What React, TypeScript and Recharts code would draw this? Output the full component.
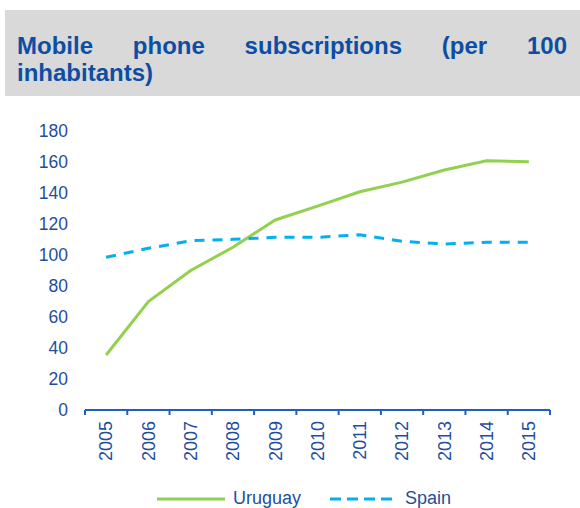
import React from 'react';
import { LineChart, Line, XAxis, YAxis, Legend } from 'recharts';

const years = ['2005', '2006', '2007', '2008', '2009', '2010', '2011', '2012', '2013', '2014', '2015'];
const uruguay = [35.5, 70, 90, 105, 122.6, 131.5, 140.8, 147, 154.8, 160.8, 160.2];
const spain = [98.5, 104.3, 109.2, 110.1, 111.4, 111.4, 113.1, 108.8, 107.1, 108.2, 108.2];
const yTicks = [0, 20, 40, 60, 80, 100, 120, 140, 160, 180];

const TEXT_BLUE = '#1f4e9e';
const AXIS_BLUE = '#1f5fbf';
const GREEN = '#92d050';
const CYAN = '#00b0f0';
const FONT = '"Liberation Sans", Arial, sans-serif';

const PLOT_LEFT = 85;
const PLOT_RIGHT = 550;
const HALF_BAND = (PLOT_RIGHT - PLOT_LEFT) / years.length / 2;

const data = years.map((year, i) => ({ year, Uruguay: uruguay[i], Spain: spain[i] }));

// rotated year labels + tick marks at the band edges
const YearTick = (props: any) => {
  const { x, y, payload, index } = props;
  const axisY = y - 8;
  return (
    <g>
      <line x1={x - HALF_BAND} x2={x - HALF_BAND} y1={axisY} y2={axisY + 5} stroke={AXIS_BLUE} strokeWidth={2} />
      {index === years.length - 1 && (
        <line x1={x + HALF_BAND} x2={x + HALF_BAND} y1={axisY} y2={axisY + 5} stroke={AXIS_BLUE} strokeWidth={2} />
      )}
      <text
        x={x}
        y={axisY + 11}
        transform={`rotate(-90 ${x} ${axisY + 11})`}
        textAnchor="end"
        dy="0.35em"
        fill={TEXT_BLUE}
        fontSize={18}
        fontFamily={FONT}
      >
        {payload.value}
      </text>
    </g>
  );
};

const LegendContent = () => (
  <div
    style={{
      height: 28,
      boxSizing: 'border-box',
      paddingTop: 9,
      paddingLeft: 157,
      display: 'flex',
      alignItems: 'center',
      fontFamily: FONT,
      fontSize: 18,
      color: TEXT_BLUE,
    }}
  >
    <svg width={68} height={4} style={{ marginRight: 8 }}>
      <line x1={0} x2={68} y1={2} y2={2} stroke={GREEN} strokeWidth={3} />
    </svg>
    <span style={{ marginRight: 29 }}>Uruguay</span>
    <svg width={62} height={4} style={{ marginRight: 13 }}>
      <line x1={0} x2={62} y1={2} y2={2} stroke={CYAN} strokeWidth={3} strokeDasharray="11 6" />
    </svg>
    <span>Spain</span>
  </div>
);

const App = () => {
  return (
    <div style={{ position: 'absolute', left: 0, top: 0, width: 580, height: 508, background: '#fff', overflow: 'hidden' }}>
      <LineChart
        width={580}
        height={508}
        data={data}
        margin={{ top: 131, right: 30, bottom: 0, left: 0 }}
      >
        <XAxis
          dataKey="year"
          height={70}
          interval={0}
          padding={{ left: HALF_BAND, right: HALF_BAND }}
          axisLine={{ stroke: AXIS_BLUE, strokeWidth: 2 }}
          tickLine={false}
          tick={<YearTick />}
        />
        <YAxis
          width={85}
          domain={[0, 180]}
          ticks={yTicks}
          axisLine={false}
          tickLine={false}
          tickSize={6}
          tickMargin={11}
          tick={{ fill: TEXT_BLUE, fontSize: 17.5, fontFamily: FONT }}
        />
        <Legend verticalAlign="bottom" content={<LegendContent />} />
        <Line
          dataKey="Uruguay"
          stroke={GREEN}
          strokeWidth={3}
          dot={false}
          isAnimationActive={false}
        />
        <Line
          dataKey="Spain"
          stroke={CYAN}
          strokeWidth={3}
          strokeDasharray="10 8"
          dot={false}
          isAnimationActive={false}
        />
      </LineChart>
      <div
        style={{
          position: 'absolute',
          left: 5,
          top: 10,
          width: 563,
          height: 86,
          paddingLeft: 12,
          background: '#d9d9d9',
        }}
      >
        <div
          style={{
            marginTop: 22,
            width: 550,
            fontFamily: FONT,
            fontWeight: 'bold',
            fontSize: 24,
            lineHeight: '27px',
            color: '#0d4ea3',
            textAlign: 'justify',
          }}
        >
          Mobile phone subscriptions (per 100 inhabitants)
        </div>
      </div>
    </div>
  );
};

export default App;
